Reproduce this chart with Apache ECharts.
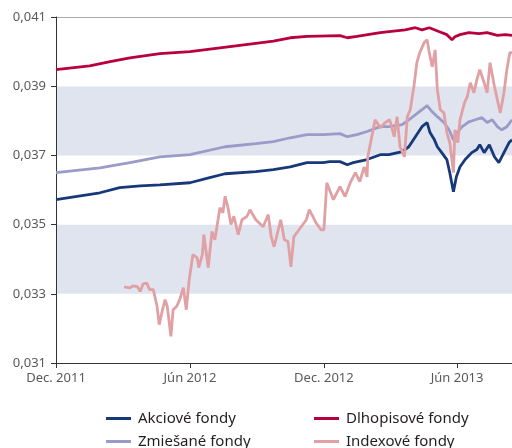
<!DOCTYPE html>
<html><head><meta charset="utf-8">
<script src="https://cdn.jsdelivr.net/npm/echarts@6/dist/echarts.min.js"></script>
<style>html,body{margin:0;padding:0;background:#fff}#c{width:512px;height:448px}</style>
</head><body><div id="c"></div>
<script>
// x = days since 1 Dec 2011
const tickDays = [0, 183, 366, 548];
const tickLabels = ['Dec. 2011', 'Jún 2012', 'Dec. 2012', 'Jún 2013'];
const seriesNames = ['Dlhopisové fondy', 'Zmiešané fondy', 'Akciové fondy', 'Indexové fondy'];

const dlhopisoveDays = [0,46,74,101,142,183,224,273,297,320,343,388,398,411,443,455,477,491,500,510,523,534,541,545,552,564,578,589,603,614,623];
const dlhopisoveVals = [0.03948,0.03959,0.03971,0.03982,0.03994,0.04000,0.04011,0.04024,0.04030,0.04040,0.04044,0.04046,0.04040,0.04044,0.04055,0.04058,0.04063,0.04069,0.04063,0.04069,0.04058,0.04049,0.04034,0.04043,0.04049,0.04055,0.04052,0.04055,0.04047,0.04049,0.04047];

const zmiesaneDays = [0,60,101,142,183,231,273,297,320,343,365,388,398,411,425,443,455,473,486,500,507,514,521,530,537,543,548,555,564,573,582,589,596,603,609,616,623];
const zmiesaneVals = [0.03650,0.03664,0.03679,0.03696,0.03702,0.03725,0.03734,0.03740,0.03751,0.03760,0.03760,0.03763,0.03754,0.03760,0.03769,0.03783,0.03783,0.03789,0.03809,0.03832,0.03844,0.03826,0.03812,0.03795,0.03774,0.03745,0.03766,0.03783,0.03797,0.03803,0.03809,0.03795,0.03803,0.03783,0.03774,0.03783,0.03803];

const akcioveDays = [0,60,87,115,142,183,210,231,273,297,320,343,365,374,388,398,406,425,443,455,473,482,491,500,507,511,517,521,527,534,538,543,547,552,559,568,575,579,585,592,599,605,612,619,623];
const akcioveVals = [0.03572,0.03592,0.03607,0.03612,0.03615,0.03621,0.03636,0.03647,0.03653,0.03659,0.03667,0.03679,0.03679,0.03682,0.03682,0.03673,0.03679,0.03688,0.03702,0.03702,0.03711,0.03725,0.03754,0.03783,0.03795,0.03766,0.03745,0.03725,0.03708,0.03688,0.03650,0.03595,0.03638,0.03667,0.03688,0.03708,0.03717,0.03731,0.03708,0.03731,0.03696,0.03679,0.03708,0.03737,0.03745];

const indexoveDays = [93,101,105,111,115,119,124,128,133,138,141,145,149,152,157,160,165,169,174,178,182,187,193,195,200,202,208,213,217,220,224,228,231,235,239,243,249,254,261,265,273,283,290,294,298,307,312,317,321,325,332,342,346,351,355,362,366,370,379,388,395,402,409,415,421,425,426,432,436,443,450,456,462,466,470,476,480,484,489,493,497,503,507,510,514,518,521,525,530,534,538,543,545,549,552,558,562,566,571,575,579,585,589,593,599,603,607,612,616,620,623];
const indexoveVals = [0.03320,0.03317,0.03323,0.03321,0.03307,0.03329,0.03331,0.03312,0.03312,0.03264,0.03211,0.03249,0.03283,0.03264,0.03177,0.03254,0.03264,0.03283,0.03318,0.03254,0.03341,0.03413,0.03404,0.03376,0.03413,0.03471,0.03376,0.03480,0.03456,0.03495,0.03549,0.03534,0.03582,0.03549,0.03500,0.03524,0.03471,0.03514,0.03524,0.03543,0.03514,0.03494,0.03529,0.03465,0.03436,0.03514,0.03456,0.03451,0.03378,0.03465,0.03485,0.03514,0.03543,0.03523,0.03506,0.03485,0.03485,0.03621,0.03572,0.03610,0.03581,0.03621,0.03650,0.03624,0.03667,0.03638,0.03696,0.03760,0.03803,0.03780,0.03795,0.03803,0.03754,0.03812,0.03725,0.03696,0.03812,0.03832,0.03899,0.03968,0.03997,0.04026,0.04034,0.03997,0.03956,0.04005,0.03890,0.03832,0.03823,0.03766,0.03737,0.03650,0.03774,0.03737,0.03803,0.03852,0.03870,0.03910,0.03881,0.03919,0.03948,0.03910,0.03881,0.03968,0.03899,0.03861,0.03823,0.03881,0.03948,0.03997,0.03997];

const colors = ['#b8003c', '#9a9bc8', '#17397a', '#e0a0a4'];
const pair = (xs, ys) => xs.map((x, i) => [x, ys[i]]);
const allData = [pair(dlhopisoveDays, dlhopisoveVals), pair(zmiesaneDays, zmiesaneVals), pair(akcioveDays, akcioveVals), pair(indexoveDays, indexoveVals)];

const FONT = 'Noto Sans';
const chart = echarts.init(document.getElementById('c'), null, {renderer: 'canvas'});
const mkLegend = (name, left, top) => ({
  left: left, top: top, data: [name], icon: 'rect', itemWidth: 25, itemHeight: 3,
  textStyle: {fontFamily: FONT, fontSize: 15, color: '#231f20', padding: [0, 0, 0, 2]},
  selectedMode: false
});
chart.setOption({
  animation: false,
  backgroundColor: '#fff',
  grid: {left: 56, top: 17, right: 0, bottom: 85, containLabel: false},
  legend: [
    mkLegend(seriesNames[2], 101, 406),
    mkLegend(seriesNames[1], 101, 429),
    mkLegend(seriesNames[0], 309, 406),
    mkLegend(seriesNames[3], 309, 429)
  ],
  xAxis: {
    type: 'value', min: 0, max: 623,
    axisLine: {lineStyle: {color: '#333', width: 1}},
    axisTick: {show: true, length: 5, lineStyle: {color: '#333'}, customValues: tickDays},
    axisLabel: {customValues: tickDays, margin: 9, fontFamily: FONT, fontSize: 13, color: '#5a5a5a',
      formatter: v => tickLabels[tickDays.indexOf(v)] || ''},
    splitLine: {show: false}
  },
  yAxis: {
    type: 'value', min: 0.031, max: 0.041, interval: 0.002,
    axisLine: {show: true, lineStyle: {color: '#333', width: 1}},
    axisTick: {show: true, length: 5, lineStyle: {color: '#333'}},
    axisLabel: {margin: 10, fontFamily: FONT, fontSize: 13, color: '#5a5a5a',
      formatter: v => v.toFixed(3).replace('.', ',')},
    splitLine: {show: true, lineStyle: {color: ['transparent','transparent','transparent','transparent','transparent','#aaaaaa'], width: 1}},
    splitArea: {show: true, areaStyle: {color: ['#ffffff', '#dfe4ee']}}
  },
  series: seriesNames.map((n, i) => ({
    name: n, type: 'line', data: allData[i], showSymbol: false, symbol: 'none',
    lineStyle: {color: colors[i], width: 2.8}, itemStyle: {color: colors[i]}, z: 2 + i
  }))
});
</script></body></html>
